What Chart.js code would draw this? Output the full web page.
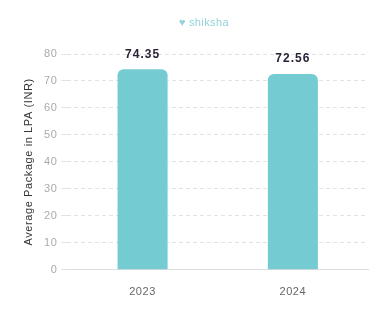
<!DOCTYPE html>
<html><head><meta charset="utf-8">
<script src="https://cdn.jsdelivr.net/npm/chart.js@4"></script>
<style>
html,body{margin:0;padding:0;background:#fff;}
#wrap{position:relative;width:382px;height:336px;}
#logo{position:absolute;left:179px;top:16px;font:11px "Liberation Sans",Arial,sans-serif;color:#94d3d9;letter-spacing:0.4px;}
#logo span{font-size:11px;margin-right:3px;}
</style></head><body>
<div id="wrap"><canvas id="c" width="382" height="336"></canvas><div id="logo"><span>♥</span>shiksha</div></div>
<script>
const categories = ["2023", "2024"];
const packageValues = [74.35, 72.56];
const yTicks = [0, 10, 20, 30, 40, 50, 60, 70, 80];
const yTitle = "Average Package in LPA (INR)";

const spacing = {
  id: 'spacing',
  beforeDraw(chart) { try { chart.ctx.letterSpacing = '0.6px'; } catch(e) {} },
  afterDraw(chart) { try { chart.ctx.letterSpacing = '0px'; } catch(e) {} }
};

const valueLabels = {
  id: 'valueLabels',
  afterDatasetsDraw(chart) {
    const ctx = chart.ctx;
    const meta = chart.getDatasetMeta(0);
    ctx.save();
    ctx.font = 'bold 12px "Liberation Sans", Arial, sans-serif';
    ctx.fillStyle = '#2b2238';
    ctx.textAlign = 'center';
    ctx.textBaseline = 'bottom';
    try { ctx.letterSpacing = '1px'; } catch(e) {}
    meta.data.forEach((bar, i) => {
      ctx.fillText(packageValues[i].toFixed(2), bar.x, bar.y - 9);
    });
    ctx.restore();
  }
};

new Chart(document.getElementById('c'), {
  type: 'bar',
  data: {
    labels: categories,
    datasets: [{
      data: packageValues,
      backgroundColor: '#74cbd2',
      borderRadius: {topLeft: 6, topRight: 6},
      borderSkipped: 'bottom',
      barPercentage: 0.333,
      categoryPercentage: 1.0
    }]
  },
  options: {
    responsive: false,
    animation: false,
    layout: { padding: { top: 54, right: 14, bottom: 29, left: 16 } },
    plugins: { legend: { display: false }, tooltip: { enabled: false } },
    scales: {
      x: {
        grid: { display: false },
        border: { color: '#dddddd' },
        ticks: { color: '#666', font: { size: 11, family: '"Liberation Sans", Arial, sans-serif' }, padding: 8 }
      },
      y: {
        min: 0, max: 80,
        afterBuildTicks(axis) { axis.ticks = yTicks.map(v => ({ value: v })); },
        grid: { color: '#e2e2e2', tickColor: '#e2e2e2', tickLength: 6 },
        border: { display: false, dash: [4, 3] },
        ticks: { color: '#aaa', font: { size: 11, family: '"Liberation Sans", Arial, sans-serif' }, padding: 4 },
        title: { display: true, text: yTitle, color: '#333', font: { size: 11, family: '"Liberation Sans", Arial, sans-serif' }, padding: 6 }
      }
    }
  },
  plugins: [spacing, valueLabels]
});
</script>
</body></html>
